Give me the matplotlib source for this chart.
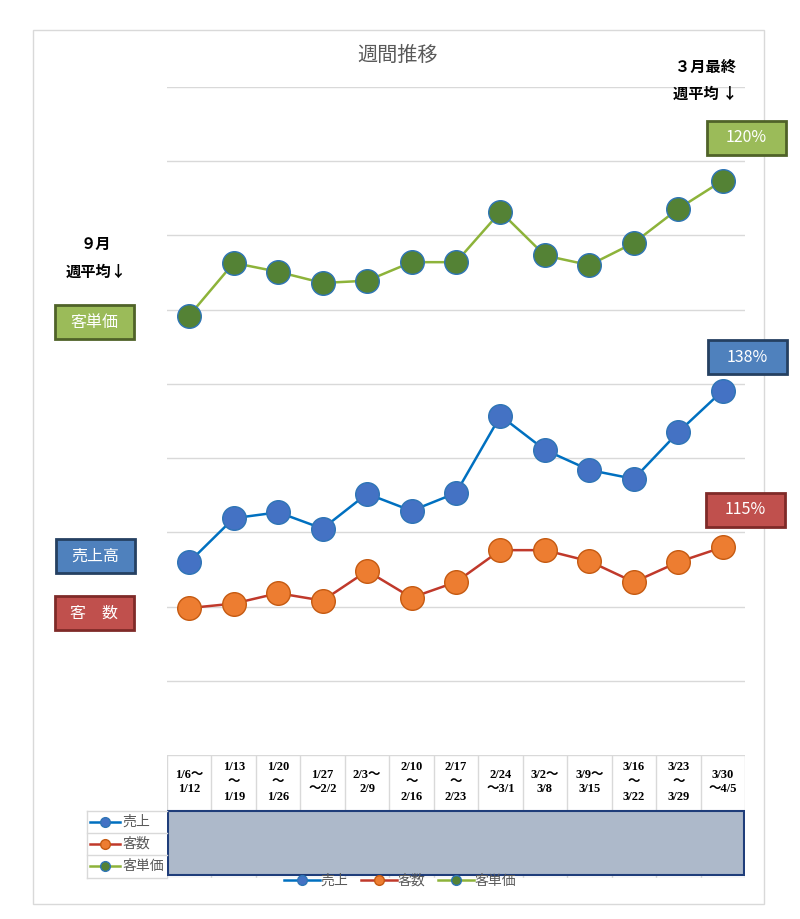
import numpy as np
import matplotlib.pyplot as plt
from matplotlib.lines import Line2D
from matplotlib.patches import Rectangle

plt.rcParams['font.family'] = ['Noto Sans CJK JP', 'DejaVu Sans']

weeks = ["1/6～\n1/12", "1/13\n～\n1/19", "1/20\n～\n1/26", "1/27\n～2/2", "2/3～\n2/9",
         "2/10\n～\n2/16", "2/17\n～\n2/23", "2/24\n～3/1", "3/2～\n3/8", "3/9～\n3/15",
         "3/16\n～\n3/22", "3/23\n～\n3/29", "3/30\n～4/5"]
# values in gridline units (chart has no y tick labels)
uriage = [2.60, 3.19, 3.27, 3.05, 3.52, 3.29, 3.53, 4.57, 4.11, 3.84, 3.72, 4.35, 4.91]
kyakusu = [1.98, 2.04, 2.18, 2.08, 2.48, 2.12, 2.33, 2.76, 2.76, 2.61, 2.33, 2.60, 2.80]
tanka = [5.92, 6.63, 6.51, 6.36, 6.39, 6.64, 6.64, 7.32, 6.73, 6.60, 6.90, 7.36, 7.74]
final_pct = {"売上": "138%", "客数": "115%", "客単価": "120%"}

W, H = 800, 919
fig = plt.figure(figsize=(8, 9.19), dpi=100)

ax = fig.add_axes([167 / W, 1 - 755 / H, 578 / W, (755 - 87) / H])
ax.patch.set_visible(False)
x = np.arange(len(weeks))
ax.set_xlim(-0.5, len(weeks) - 0.5)
ax.set_ylim(0, 9)
for g in range(1, 10):
    ax.axhline(g, color='#D9D9D9', lw=1, zorder=0)
for s in ax.spines.values():
    s.set_visible(False)
ax.set_xticks([])
ax.set_yticks([])

styles = [
    ("売上", uriage, '#0070C0', '#4472C4', '#2E75B6'),
    ("客数", kyakusu, '#C0392B', '#ED7D31', '#C55A11'),
    ("客単価", tanka, '#8DB33A', '#548235', '#2E75B6'),
]
handles = []
for name, vals, lc, fc, ec in styles:
    ax.plot(x, vals, color=lc, lw=1.8, marker='o', markersize=17,
            markerfacecolor=fc, markeredgecolor=ec, markeredgewidth=1, zorder=3)
    handles.append(Line2D([], [], color=lc, lw=1.8, marker='o', markersize=7,
                          markerfacecolor=fc, markeredgecolor=ec, markeredgewidth=1))

fig.text(398 / W, 1 - 55 / H, "週間推移", ha='center', va='center', fontsize=14.5, color='#595959')

# table under the chart
tab = fig.add_axes([167 / W, 1 - 878 / H, 578 / W, (878 - 755) / H])
tab.patch.set_visible(False)
tab.set_xlim(-0.5, len(weeks) - 0.5)
tab.set_ylim(878, 755)
tab.axis('off')
for i in range(len(weeks) + 1):
    tab.plot([i - 0.5, i - 0.5], [755, 878], color='#D9D9D9', lw=1, zorder=1)
tab.plot([-0.5, len(weeks) - 0.5], [755, 755], color='#D9D9D9', lw=1)
tab.plot([-0.5, len(weeks) - 0.5], [878, 878], color='#D9D9D9', lw=1)
for i, lab in enumerate(weeks):
    tab.text(i, 782, lab, ha='center', va='center', fontsize=9, fontweight='bold',
             family=['Liberation Serif', 'Noto Sans CJK JP'], linespacing=1.3)
tab.add_patch(Rectangle((-0.47, 811), len(weeks) - 0.06, 64, fc='#ADB9CA', ec='#1F3D7A',
                        lw=1.5, zorder=3))

# overlay axes in pixel coords for border, boxes and notes
bg = fig.add_axes([0, 0, 1, 1])
bg.patch.set_visible(False)
bg.set_xlim(0, W)
bg.set_ylim(H, 0)
bg.axis('off')
bg.add_patch(Rectangle((33, 30), 731, 874, fill=False, ec='#D9D9D9', lw=1))

# left legend column of the table
for r, (name, vals, lc, fc, ec) in enumerate(styles):
    yy = 822 + r * 22
    bg.plot([90, 120], [yy, yy], color=lc, lw=1.8)
    bg.plot([105], [yy], marker='o', markersize=7, markerfacecolor=fc, markeredgecolor=ec, markeredgewidth=1)
    bg.text(122, yy, name, va='center', fontsize=10, color='#595959')
for yy in [811, 833, 855, 878]:
    bg.plot([87, 167], [yy, yy], color='#D9D9D9', lw=1)
bg.plot([87, 87], [811, 878], color='#D9D9D9', lw=1)

fig.legend(handles, [s[0] for s in styles], loc='center', bbox_to_anchor=(400 / W, 1 - 881 / H),
           ncol=3, frameon=False, fontsize=10, labelcolor='#595959', handlelength=2.6,
           columnspacing=0.9, handletextpad=0.05)

# annotations
bg.text(705, 67, "３月最終", ha='center', va='center', fontsize=11, fontweight='bold')
bg.text(705, 94, "週平均 ↓", ha='center', va='center', fontsize=11, fontweight='bold')
bg.text(96, 244, "９月", ha='center', va='center', fontsize=11, fontweight='bold')
bg.text(96, 272, "週平均↓", ha='center', va='center', fontsize=11, fontweight='bold')

boxes = [
    (55, 305, "客単価", '#9BBB59', '#4F6228'),
    (56, 539, "売上高", '#4F81BD', '#254061'),
    (55, 596, "客　数", '#C0504D', '#7F2A28'),
    (707, 121, final_pct["客単価"], '#9BBB59', '#4F6228'),
    (708, 340, final_pct["売上"], '#4F81BD', '#254061'),
    (706, 493, final_pct["客数"], '#C0504D', '#7F2A28'),
]
for bx, by, txt, fc, ec in boxes:
    bg.add_patch(Rectangle((bx, by), 79, 34, fc=fc, ec=ec, lw=2))
    bg.text(bx + 39.5, by + 17, txt, ha='center', va='center', fontsize=11.5, color='white')

fig.savefig("out.png", dpi=100)
